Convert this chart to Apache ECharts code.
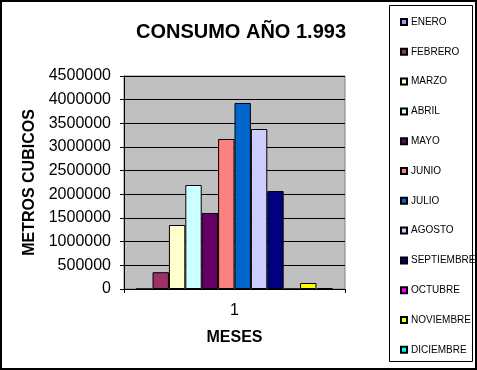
<!DOCTYPE html>
<html><head><meta charset="utf-8">
<script src="https://cdn.jsdelivr.net/npm/echarts@6/dist/echarts.min.js"></script>
<style>html,body{margin:0;padding:0;background:#fff}#c{width:477px;height:370px}</style>
</head><body><div id="c"></div>
<script>
const categories = ['1'];
const months = ['ENERO','FEBRERO','MARZO','ABRIL','MAYO','JUNIO','JULIO','AGOSTO','SEPTIEMBRE','OCTUBRE','NOVIEMBRE','DICIEMBRE'];
const values = [0, 355000, 1352000, 2197000, 1606000, 3169000, 3930000, 3380000, 2070000, 0, 127000, 20000];
const colors = ['#9999FF','#993366','#FFFFCC','#CCFFFF','#660066','#FF8080','#0066CC','#CCCCFF','#000080','#FF00FF','#FFFF00','#00FFFF'];
const yTicks = {min: 0, max: 4500000, interval: 500000};
const title = 'CONSUMO AÑO 1.993';
const yName = 'METROS CUBICOS';
const xName = 'MESES';

const font = 'Arial, "Liberation Sans", sans-serif';
const chart = echarts.init(document.getElementById('c'), null, {renderer: 'canvas'});
chart.setOption({
  animation: false,
  backgroundColor: '#fff',
  title: {
    text: title, left: 236, top: 17, textAlign: 'center',
    textStyle: {fontFamily: font, fontWeight: 'bold', fontSize: 20, color: '#000'}
  },
  legend: {
    orient: 'vertical', left: 395, top: 10,
    itemWidth: 6, itemHeight: 6, icon: 'rect', itemGap: 15.8, itemGap: 15.8,
    textStyle: {fontFamily: font, fontSize: 10, color: '#000', lineHeight: 14, padding: [0, 0, 0, -1]},
    data: months
  },
  grid: {
    left: 124, right: 132, top: 76, bottom: 81,
    show: true, backgroundColor: '#C0C0C0', borderColor: '#808080', borderWidth: 1
  },
  xAxis: {
    type: 'category', data: categories,
    name: xName, nameLocation: 'middle', nameGap: 41,
    nameTextStyle: {fontFamily: font, fontWeight: 'bold', fontSize: 16, color: '#000'},
    axisLine: {lineStyle: {color: '#000', width: 1}},
    axisTick: {show: true, length: 4, lineStyle: {color: '#000'}},
    axisLabel: {fontFamily: font, fontSize: 16, color: '#000', margin: 14}
  },
  yAxis: {
    type: 'value', min: yTicks.min, max: yTicks.max, interval: yTicks.interval,
    name: yName, nameLocation: 'middle', nameRotate: 90, nameGap: 86,
    nameTextStyle: {fontFamily: font, fontWeight: 'bold', fontSize: 16, color: '#000'},
    axisLine: {show: true, lineStyle: {color: '#000', width: 1}},
    axisTick: {show: true, length: 4, lineStyle: {color: '#000'}},
    axisLabel: {fontFamily: font, fontSize: 16, color: '#000', margin: 13, formatter: v => String(v)},
    splitLine: {show: true, lineStyle: {color: '#000', width: 1}}
  },
  series: months.map((m, i) => ({
    name: m, type: 'bar', data: [values[i]],
    barGap: '0%', barCategoryGap: '11%',
    itemStyle: {color: colors[i], borderColor: '#000', borderWidth: 1}
  })),
  graphic: [
    {type: 'rect', shape: {x: 1, y: 1, width: 475, height: 368}, style: {fill: 'none', stroke: '#000', lineWidth: 2}, z: 100},
    {type: 'rect', shape: {x: 389.5, y: 5.5, width: 83, height: 356}, style: {fill: 'none', stroke: '#000', lineWidth: 1}, z: 100}
  ]
});
</script></body></html>
